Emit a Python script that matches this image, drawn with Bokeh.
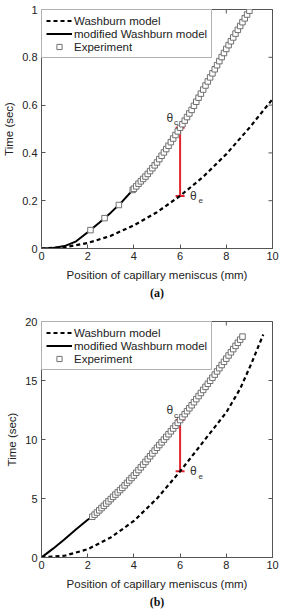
import math
from bokeh.plotting import figure
from bokeh.models import (Range1d, FixedTicker, Legend, LegendItem,
                          Whisker, TeeHead, ColumnDataSource, Title)
from bokeh.layouts import column
from bokeh.core.properties import value
from bokeh.embed import file_html
from bokeh.resources import INLINE

# ---------------- data: panel (a) ----------------
wash_a_x = [0, 1, 2, 3, 4, 5, 6, 7, 8, 9, 10]
wash_a_t = [0, 0.005, 0.023, 0.053, 0.097, 0.152, 0.22, 0.30, 0.395, 0.505, 0.625]

mod_a_x = [0, 0.5, 1.0, 1.5, 2.0, 2.5, 3.0, 3.5, 4.0, 5.0, 6.0, 7.0, 8.0, 9.0]
mod_a_t = [0, 0.002, 0.010, 0.030, 0.068, 0.108, 0.150, 0.197, 0.250, 0.360, 0.505, 0.665, 0.835, 0.995]

exp_a_x = [2.12, 2.73, 3.35, 3.95,
           4.0, 4.1, 4.2, 4.3, 4.4, 4.5, 4.6, 4.7, 4.8, 4.9,
           5.0, 5.1, 5.2, 5.3, 5.4, 5.5, 5.6, 5.7, 5.8, 5.9,
           6.0, 6.1, 6.2, 6.3, 6.4, 6.5, 6.6, 6.7, 6.8, 6.9,
           7.0, 7.1, 7.2, 7.3, 7.4, 7.5, 7.6, 7.7, 7.8, 7.9,
           8.0, 8.1, 8.2, 8.3, 8.4, 8.5, 8.6, 8.7, 8.8, 8.9, 9.0]
exp_a_t = [0.077, 0.127, 0.182, 0.245,
           0.250, 0.260, 0.271, 0.281, 0.291, 0.301, 0.312, 0.324, 0.336, 0.348,
           0.360, 0.374, 0.388, 0.402, 0.416, 0.430, 0.445, 0.460, 0.475, 0.490,
           0.505, 0.520, 0.535, 0.550, 0.565, 0.580, 0.597, 0.614, 0.631, 0.648,
           0.665, 0.682, 0.699, 0.716, 0.733, 0.750, 0.767, 0.784, 0.801, 0.818,
           0.835, 0.851, 0.867, 0.883, 0.899, 0.915, 0.931, 0.947, 0.963, 0.979, 0.995]

theta_x_a = 6.0
theta_c_a = 0.505
theta_e_a = 0.22

y_ticks_a = [0, 0.2, 0.4, 0.6, 0.8, 1.0]
y_labels_a = ["0", "0.2", "0.4", "0.6", "0.8", "1"]

# ---------------- data: panel (b) ----------------
wash_b_x = [0, 1, 2, 3, 4, 5, 6, 7, 8, 8.6, 9.1, 9.6]
wash_b_t = [0, 0.15, 0.7, 1.7, 3.1, 5.0, 7.3, 9.8, 12.3, 14.3, 16.5, 18.9]

mod_b_x = [0, 0.5, 1.0, 1.5, 2.0, 2.2, 2.5, 3.0, 3.5, 4.0, 4.5, 5.0, 5.5, 6.0,
           6.5, 7.0, 7.5, 8.0, 8.5, 8.7]
mod_b_t = [0, 0.75, 1.55, 2.4, 3.2, 3.45, 4.0, 4.95, 5.9, 6.95, 8.1, 9.3, 10.45, 11.65,
           12.9, 14.2, 15.5, 16.85, 18.2, 18.72]

exp_b_x = [2.2, 2.3, 2.4, 2.5, 2.6, 2.7, 2.8, 2.9,
           3.0, 3.1, 3.2, 3.3, 3.4, 3.5, 3.6, 3.7, 3.8, 3.9,
           4.0, 4.1, 4.2, 4.3, 4.4, 4.5, 4.6, 4.7, 4.8, 4.9,
           5.0, 5.1, 5.2, 5.3, 5.4, 5.5, 5.6, 5.7, 5.8, 5.9,
           6.0, 6.1, 6.2, 6.3, 6.4, 6.5, 6.6, 6.7, 6.8, 6.9,
           7.0, 7.1, 7.2, 7.3, 7.4, 7.5, 7.6, 7.7, 7.8, 7.9,
           8.0, 8.1, 8.2, 8.3, 8.4, 8.5, 8.6, 8.7]
exp_b_t = [3.45, 3.63, 3.81, 4.00, 4.19, 4.38, 4.57, 4.76,
           4.95, 5.14, 5.33, 5.52, 5.71, 5.90, 6.11, 6.32, 6.53, 6.74,
           6.95, 7.18, 7.41, 7.64, 7.87, 8.10, 8.34, 8.58, 8.82, 9.06,
           9.30, 9.53, 9.76, 9.99, 10.22, 10.45, 10.69, 10.93, 11.17, 11.41,
           11.65, 11.90, 12.15, 12.40, 12.65, 12.90, 13.16, 13.42, 13.68, 13.94,
           14.20, 14.46, 14.72, 14.98, 15.24, 15.50, 15.77, 16.04, 16.31, 16.58,
           16.85, 17.12, 17.39, 17.66, 17.93, 18.20, 18.46, 18.72]

theta_x_b = 6.0
theta_c_b = 11.65
theta_e_b = 7.3

y_ticks_b = [0, 5, 10, 15, 20]
y_labels_b = ["0", "5", "10", "15", "20"]

x_ticks = [0, 2, 4, 6, 8, 10]
x_labels = ["0", "2", "4", "6", "8", "10"]

legend_labels = ["Washburn model", "modified Washburn model", "Experiment"]
x_title = "Position of capillary meniscus (mm)"
y_title = "Time (sec)"

FONT = "Liberation Sans"
AXC = "#555555"
TXT = "#222222"
RED = "#e3232c"


def make_panel(wx, wt, mx, mt, ex, et, tx, tc, te, yticks, ylabels, ymax,
               caption, height, mb_left, mb_right, mb_top, mb_bottom):
    xmax = 10
    p = figure(width=283, height=height, output_backend="svg", toolbar_location=None,
               x_range=Range1d(0, xmax), y_range=Range1d(0, ymax),
               min_border_left=mb_left, min_border_right=mb_right,
               min_border_top=mb_top, min_border_bottom=mb_bottom)
    p.grid.visible = False
    p.outline_line_color = AXC
    p.outline_line_width = 1

    xa = p.xaxis[0]
    xa.ticker = FixedTicker(ticks=x_ticks)
    xa.major_label_overrides = {t: l for t, l in zip(x_ticks, x_labels)}
    ya = p.yaxis[0]
    ya.ticker = FixedTicker(ticks=yticks)
    ya.major_label_overrides = {t: l for t, l in zip(yticks, ylabels)}
    for ax in (xa, ya):
        ax.axis_line_color = AXC
        ax.major_tick_line_color = AXC
        ax.major_tick_in = 4
        ax.major_tick_out = 0
        ax.minor_tick_line_color = None
        ax.major_label_text_font = FONT
        ax.major_label_text_font_size = "11px"
        ax.major_label_text_color = TXT
        ax.axis_label_text_font = FONT
        ax.axis_label_text_font_size = "11.5px"
        ax.axis_label_text_font_style = "normal"
        ax.axis_label_text_color = TXT
    xa.axis_label = x_title
    ya.axis_label = y_title
    xa.major_label_standoff = 3
    xa.axis_label_standoff = 6
    ya.major_label_standoff = 4
    ya.axis_label_standoff = 4

    # inward ticks on the top and right edges of the box (half of each dash is clipped)
    p.scatter(x_ticks, [ymax] * len(x_ticks), marker="dash", angle=math.pi / 2,
              size=8, line_color=AXC, line_width=1)
    p.scatter([xmax] * len(yticks), yticks, marker="dash",
              size=8, line_color=AXC, line_width=1)

    r_w = p.line(wx, wt, line_color="black", line_width=2.2, line_dash="4 3")
    r_m = p.line(mx, mt, line_color="black", line_width=2)
    r_e = p.scatter(ex, et, marker="square", size=5.5, line_color="#707070",
                    fill_color="white", line_width=1)

    src = ColumnDataSource(dict(x=[tx], lo=[te], hi=[tc]))
    wh = Whisker(base="x", lower="lo", upper="hi", source=src, dimension="height",
                 line_color=RED, line_width=2,
                 upper_head=TeeHead(size=9, line_color=RED, line_width=2),
                 lower_head=TeeHead(size=9, line_color=RED, line_width=2))
    p.add_layout(wh)

    tf = value(FONT)
    p.text([tx], [tc], text=["θ"], text_font=tf, text_font_size="12px", text_color="#333333",
           text_align="right", text_baseline="middle", x_offset=-7, y_offset=-10)
    p.text([tx], [tc], text=["c"], text_font=tf, text_font_size="8px", text_color="#333333",
           text_align="center", text_baseline="middle", x_offset=-4, y_offset=-5)
    p.text([tx], [te], text=["θ"], text_font=tf, text_font_size="12px", text_color="#333333",
           text_align="left", text_baseline="middle", x_offset=10, y_offset=0)
    p.text([tx], [te], text=["e"], text_font=tf, text_font_size="8px", text_color="#333333",
           text_align="center", text_baseline="middle", x_offset=20.5, y_offset=5)

    leg = Legend(items=[LegendItem(label=legend_labels[0], renderers=[r_w]),
                        LegendItem(label=legend_labels[1], renderers=[r_m]),
                        LegendItem(label=legend_labels[2], renderers=[r_e])],
                 location="top_left", margin=0, padding=4, spacing=0,
                 label_text_font=FONT, label_text_font_size="11.5px", label_text_color=TXT,
                 label_height=13, glyph_height=13, glyph_width=26, label_standoff=2,
                 border_line_color="#666666", border_line_width=1,
                 background_fill_color="white", background_fill_alpha=1)
    p.add_layout(leg)

    p.add_layout(Title(text=caption, align="center", text_font="Liberation Serif",
                       text_font_style="bold", text_font_size="12px", text_color="#111111",
                       standoff=1, offset=0), "below")
    return p


pa = make_panel(wash_a_x, wash_a_t, mod_a_x, mod_a_t, exp_a_x, exp_a_t,
                theta_x_a, theta_c_a, theta_e_a, y_ticks_a, y_labels_a, 1.0,
                "(a)", 305, 41, 11, 9, 57)
pb = make_panel(wash_b_x, wash_b_t, mod_b_x, mod_b_t, exp_b_x, exp_b_t,
                theta_x_b, theta_c_b, theta_e_b, y_ticks_b, y_labels_b, 20.0,
                "(b)", 306, 39, 10, 16, 54)

layout = column(pa, pb, spacing=0)
open("out.html", "w").write(file_html(layout, INLINE))
